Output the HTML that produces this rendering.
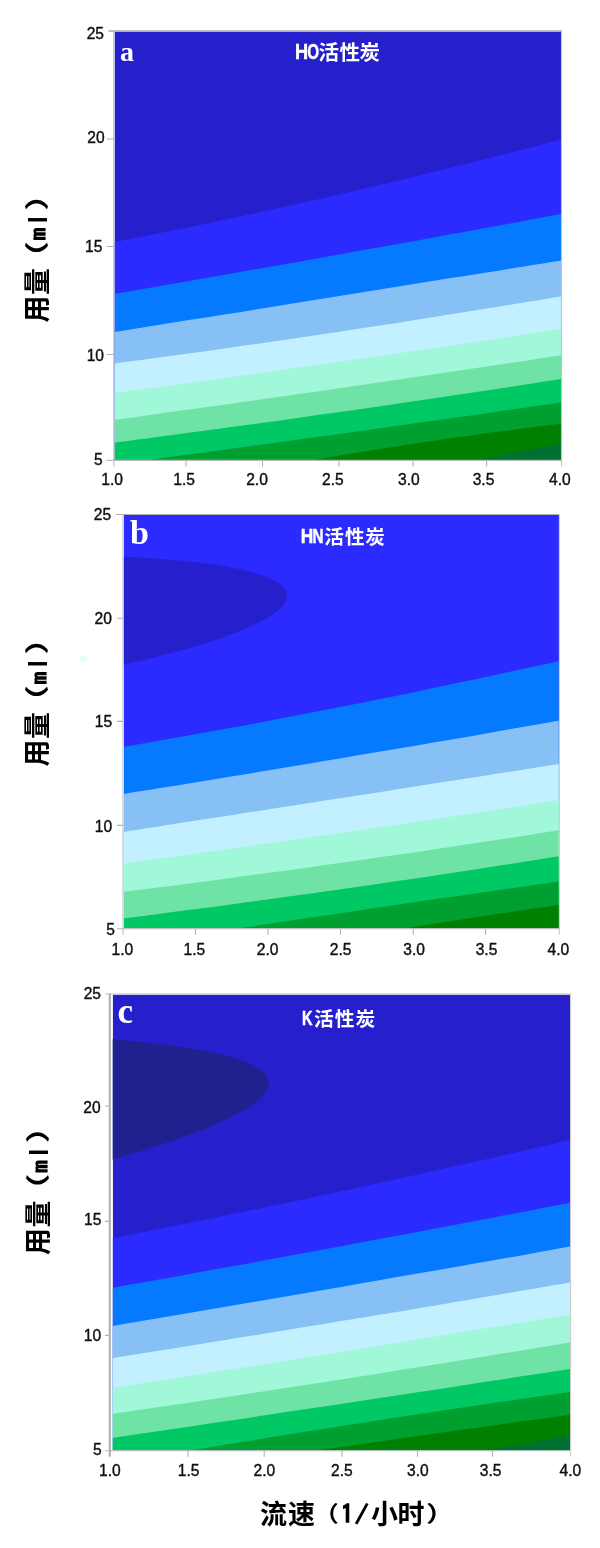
<!DOCTYPE html>
<html lang="zh-CN">
<head>
<meta charset="utf-8">
<title>活性炭等高线图</title>
<style>
html,body{margin:0;padding:0;background:#fff;}
body{width:600px;height:1548px;overflow:hidden;}
svg{display:block;}
.tk text{font-family:"Liberation Sans",sans-serif;font-size:15.6px;fill:#111;stroke:#111;stroke-width:0.4px;}
.pl text{font-family:"Liberation Serif",serif;font-weight:bold;fill:#fff;}
.tt text{font-family:"Liberation Sans","Noto Sans CJK SC",sans-serif;font-weight:bold;fill:#fff;}
.tt .lt{stroke:#fff;stroke-width:0.5px;}
.ax text.nb{font-weight:normal;stroke:#000;stroke-width:0.3px;}
.ax text.ip{font-family:"IPAGothic","Liberation Sans",sans-serif;font-weight:normal;stroke:#000;stroke-width:1.5px;}
.ax text{font-family:"Liberation Sans","Noto Sans CJK SC",sans-serif;font-weight:bold;fill:#000;}
</style>
</head>
<body>
<svg width="600" height="1548" viewBox="0 0 600 1548">
<rect width="600" height="1548" fill="#fff"/>
<clipPath id="cp0"><rect x="114.5" y="31.6" width="446.5" height="428.4"/></clipPath>
<g clip-path="url(#cp0)" shape-rendering="geometricPrecision">
<rect x="114.5" y="31.6" width="446.5" height="428.4" fill="#2620cc"/>
<path d="M114.5,242.1 C120.7,240.9 139.3,237.2 151.7,234.8 C164.1,232.3 176.5,229.8 188.9,227.2 C201.3,224.7 213.7,222.1 226.1,219.5 C238.5,216.8 250.9,214.2 263.3,211.5 C275.7,208.8 288.1,206 300.5,203.2 C312.9,200.5 325.3,197.6 337.8,194.8 C350.2,191.9 362.6,189.1 375,186.1 C387.4,183.2 399.8,180.2 412.2,177.2 C424.6,174.2 437,171.2 449.4,168.1 C461.8,165 474.2,161.9 486.6,158.8 C499,155.6 511.4,152.4 523.8,149.2 C536.2,146 554.8,141 561,139.4 L561,460 L114.5,460 Z" fill="#2b2bff"/>
<path d="M114.5,293.8 C120.7,292.8 139.3,289.6 151.7,287.4 C164.1,285.3 176.5,283.1 188.9,281 C201.3,278.8 213.7,276.7 226.1,274.5 C238.5,272.3 250.9,270.1 263.3,268 C275.7,265.8 288.1,263.6 300.5,261.4 C312.9,259.2 325.3,257 337.8,254.8 C350.2,252.6 362.6,250.3 375,248.1 C387.4,245.9 399.8,243.6 412.2,241.4 C424.6,239.1 437,236.9 449.4,234.6 C461.8,232.4 474.2,230.1 486.6,227.8 C499,225.6 511.4,223.3 523.8,221 C536.2,218.7 554.8,215.2 561,214.1 L561,460 L114.5,460 Z" fill="#067aff"/>
<path d="M114.5,332.1 C120.7,331.1 139.3,328.1 151.7,326.1 C164.1,324.1 176.5,322.1 188.9,320.1 C201.3,318.2 213.7,316.2 226.1,314.2 C238.5,312.2 250.9,310.2 263.3,308.2 C275.7,306.2 288.1,304.2 300.5,302.2 C312.9,300.2 325.3,298.2 337.8,296.3 C350.2,294.3 362.6,292.3 375,290.3 C387.4,288.3 399.8,286.3 412.2,284.3 C424.6,282.3 437,280.3 449.4,278.3 C461.8,276.3 474.2,274.3 486.6,272.4 C499,270.4 511.4,268.4 523.8,266.4 C536.2,264.4 554.8,261.4 561,260.4 L561,460 L114.5,460 Z" fill="#87c0f5"/>
<path d="M114.5,363.6 C120.7,362.8 139.3,360.3 151.7,358.6 C164.1,356.9 176.5,355.2 188.9,353.5 C201.3,351.7 213.7,350 226.1,348.2 C238.5,346.4 250.9,344.7 263.3,342.9 C275.7,341.1 288.1,339.2 300.5,337.4 C312.9,335.6 325.3,333.7 337.8,331.9 C350.2,330 362.6,328.1 375,326.2 C387.4,324.3 399.8,322.4 412.2,320.4 C424.6,318.5 437,316.5 449.4,314.6 C461.8,312.6 474.2,310.6 486.6,308.6 C499,306.6 511.4,304.6 523.8,302.5 C536.2,300.5 554.8,297.4 561,296.4 L561,460 L114.5,460 Z" fill="#c3f0ff"/>
<path d="M114.5,393.1 C120.7,392.3 139.3,389.8 151.7,388.1 C164.1,386.4 176.5,384.7 188.9,382.9 C201.3,381.2 213.7,379.5 226.1,377.8 C238.5,376 250.9,374.3 263.3,372.5 C275.7,370.8 288.1,369 300.5,367.3 C312.9,365.5 325.3,363.7 337.8,362 C350.2,360.2 362.6,358.4 375,356.6 C387.4,354.8 399.8,353 412.2,351.2 C424.6,349.4 437,347.5 449.4,345.7 C461.8,343.9 474.2,342 486.6,340.2 C499,338.4 511.4,336.5 523.8,334.6 C536.2,332.8 554.8,330 561,329 L561,460 L114.5,460 Z" fill="#a0f8d8"/>
<path d="M114.5,419.8 C120.7,419 139.3,416.4 151.7,414.7 C164.1,413 176.5,411.3 188.9,409.6 C201.3,407.9 213.7,406.1 226.1,404.4 C238.5,402.6 250.9,400.9 263.3,399.1 C275.7,397.4 288.1,395.6 300.5,393.8 C312.9,392.1 325.3,390.3 337.8,388.5 C350.2,386.7 362.6,384.9 375,383.1 C387.4,381.3 399.8,379.4 412.2,377.6 C424.6,375.8 437,373.9 449.4,372.1 C461.8,370.2 474.2,368.4 486.6,366.5 C499,364.7 511.4,362.8 523.8,360.9 C536.2,359 554.8,356.2 561,355.2 L561,460 L114.5,460 Z" fill="#6ee3a5"/>
<path d="M114.5,442.6 C120.7,441.8 139.3,439.4 151.7,437.7 C164.1,436.1 176.5,434.5 188.9,432.8 C201.3,431.1 213.7,429.5 226.1,427.8 C238.5,426.1 250.9,424.4 263.3,422.7 C275.7,421 288.1,419.3 300.5,417.5 C312.9,415.8 325.3,414 337.8,412.3 C350.2,410.5 362.6,408.7 375,406.9 C387.4,405.2 399.8,403.4 412.2,401.5 C424.6,399.7 437,397.9 449.4,396 C461.8,394.2 474.2,392.3 486.6,390.5 C499,388.6 511.4,386.7 523.8,384.8 C536.2,382.9 554.8,380 561,379.1 L561,460 L114.5,460 Z" fill="#00c864"/>
<path d="M148.1,460 C153.9,459.2 171.1,456.9 182.5,455.3 C194,453.8 205.5,452.2 216.9,450.7 C228.4,449.1 239.9,447.5 251.4,446 C262.8,444.4 274.3,442.8 285.8,441.2 C297.2,439.7 308.7,438.1 320.2,436.5 C331.6,434.9 343.1,433.3 354.6,431.7 C366,430.1 377.5,428.5 389,426.9 C400.4,425.3 411.9,423.7 423.4,422.1 C434.8,420.5 446.3,418.9 457.8,417.3 C469.3,415.6 480.7,414 492.2,412.4 C503.7,410.8 515.1,409.1 526.6,407.5 C538.1,405.9 555.3,403.4 561,402.6 L561,460 L148.1,460 Z" fill="#00a030"/>
<path d="M313.2,460 C316.6,459.4 326.9,457.6 333.8,456.5 C340.7,455.3 347.6,454.2 354.5,453 C361.4,451.9 368.2,450.8 375.1,449.7 C382,448.6 388.9,447.5 395.8,446.5 C402.7,445.4 409.6,444.3 416.4,443.3 C423.3,442.3 430.2,441.2 437.1,440.2 C444,439.2 450.9,438.2 457.7,437.3 C464.6,436.3 471.5,435.3 478.4,434.4 C485.3,433.4 492.2,432.5 499,431.6 C505.9,430.7 512.8,429.8 519.7,428.9 C526.6,428 533.5,427.1 540.3,426.3 C547.2,425.4 557.6,424.2 561,423.8 L561,460 L313.2,460 Z" fill="#008000"/>
<path d="M477,460 C478.5,459.7 472,461.1 486,458.3 C500,455.6 548.5,446 561,443.5 L561,460 L477,460 Z" fill="#007030"/>
</g>
<clipPath id="cp1"><rect x="123.8" y="515" width="435.2" height="413.3"/></clipPath>
<g clip-path="url(#cp1)" shape-rendering="geometricPrecision">
<rect x="123.8" y="515" width="435.2" height="413.3" fill="#2b2bff"/>
<path d="M120.8,556.6 L121.7,556.6 L143.7,557.8 L160.6,558.9 L174.4,560 L186.2,561.2 L196.5,562.3 L205.6,563.5 L213.7,564.6 L221,565.7 L227.6,566.9 L233.6,568 L239.1,569.1 L244.2,570.3 L248.8,571.4 L253,572.6 L256.9,573.7 L260.4,574.8 L263.7,576 L266.7,577.1 L269.4,578.2 L271.9,579.4 L274.1,580.5 L276.2,581.7 L278,582.8 L279.7,583.9 L281.1,585.1 L282.4,586.2 L283.5,587.4 L284.5,588.5 L285.3,589.6 L286,590.8 L286.5,591.9 L286.8,593 L287.1,594.2 L287.2,595.3 L287.2,596.5 L287.1,597.6 L286.8,598.7 L286.5,599.9 L286,601 L285.4,602.1 L284.7,603.3 L283.9,604.4 L283,605.6 L282,606.7 L280.9,607.8 L279.7,609 L278.4,610.1 L277.1,611.2 L275.6,612.4 L274,613.5 L272.4,614.7 L270.7,615.8 L268.8,616.9 L267,618.1 L265,619.2 L262.9,620.3 L260.8,621.5 L258.5,622.6 L256.2,623.8 L253.8,624.9 L251.4,626 L248.8,627.2 L246.2,628.3 L243.5,629.5 L240.8,630.6 L237.9,631.7 L235,632.9 L232,634 L229,635.1 L225.8,636.3 L222.6,637.4 L219.4,638.6 L216,639.7 L212.6,640.8 L209.1,642 L205.5,643.1 L201.9,644.2 L198.2,645.4 L194.4,646.5 L190.6,647.7 L186.7,648.8 L182.7,649.9 L178.6,651.1 L174.5,652.2 L170.3,653.3 L166,654.5 L161.6,655.6 L157.2,656.8 L152.7,657.9 L148.2,659 L143.5,660.2 L138.8,661.3 L134,662.4 L129.1,663.6 L124.2,664.7 L121.7,665.3 L120.8,665.3 Z" fill="#2620cc"/>
<path d="M124,746.9 C130,745.9 148.2,742.7 160.2,740.6 C172.3,738.5 184.4,736.3 196.4,734.1 C208.5,731.9 220.6,729.7 232.7,727.5 C244.8,725.3 256.8,723 268.9,720.7 C281,718.5 293.1,716.2 305.1,713.8 C317.2,711.5 329.3,709.1 341.4,706.8 C353.4,704.4 365.5,702 377.6,699.5 C389.7,697.1 401.7,694.6 413.8,692.2 C425.9,689.7 438,687.2 450,684.6 C462.1,682.1 474.2,679.6 486.2,677 C498.3,674.4 510.4,671.8 522.5,669.1 C534.6,666.5 552.7,662.5 558.7,661.2 L559,928.3 L124,928.3 Z" fill="#067aff"/>
<path d="M124,794 C130,793 148.2,790.1 160.2,788.1 C172.3,786.2 184.4,784.2 196.4,782.2 C208.5,780.2 220.6,778.3 232.7,776.3 C244.8,774.3 256.8,772.3 268.9,770.3 C281,768.3 293.1,766.3 305.1,764.3 C317.2,762.2 329.3,760.2 341.4,758.2 C353.4,756.2 365.5,754.1 377.6,752.1 C389.7,750 401.7,748 413.8,745.9 C425.9,743.8 438,741.8 450,739.7 C462.1,737.6 474.2,735.5 486.2,733.4 C498.3,731.3 510.4,729.2 522.5,727.1 C534.6,725 552.7,721.8 558.7,720.8 L559,928.3 L124,928.3 Z" fill="#87c0f5"/>
<path d="M124,831.9 C130,831 148.2,828.1 160.2,826.3 C172.3,824.4 184.4,822.5 196.4,820.6 C208.5,818.7 220.6,816.9 232.7,815 C244.8,813.1 256.8,811.2 268.9,809.3 C281,807.5 293.1,805.6 305.1,803.7 C317.2,801.8 329.3,799.9 341.4,798.1 C353.4,796.2 365.5,794.3 377.6,792.4 C389.7,790.5 401.7,788.6 413.8,786.8 C425.9,784.9 438,783 450,781.1 C462.1,779.2 474.2,777.3 486.2,775.5 C498.3,773.6 510.4,771.7 522.5,769.8 C534.6,767.9 552.7,765.1 558.7,764.1 L559,928.3 L124,928.3 Z" fill="#c3f0ff"/>
<path d="M124,863.4 C130,862.5 148.2,860.1 160.2,858.4 C172.3,856.8 184.4,855.1 196.4,853.5 C208.5,851.8 220.6,850.1 232.7,848.4 C244.8,846.7 256.8,845 268.9,843.3 C281,841.6 293.1,839.9 305.1,838.1 C317.2,836.4 329.3,834.6 341.4,832.9 C353.4,831.1 365.5,829.4 377.6,827.6 C389.7,825.8 401.7,824 413.8,822.2 C425.9,820.4 438,818.6 450,816.8 C462.1,815 474.2,813.1 486.2,811.3 C498.3,809.4 510.4,807.6 522.5,805.7 C534.6,803.9 552.7,801 558.7,800.1 L559,928.3 L124,928.3 Z" fill="#a0f8d8"/>
<path d="M124,891.8 C130,891 148.2,888.8 160.2,887.2 C172.3,885.7 184.4,884.1 196.4,882.5 C208.5,880.9 220.6,879.3 232.7,877.7 C244.8,876.1 256.8,874.5 268.9,872.8 C281,871.2 293.1,869.5 305.1,867.9 C317.2,866.2 329.3,864.5 341.4,862.8 C353.4,861.1 365.5,859.4 377.6,857.6 C389.7,855.9 401.7,854.1 413.8,852.4 C425.9,850.6 438,848.8 450,847 C462.1,845.2 474.2,843.4 486.2,841.5 C498.3,839.7 510.4,837.9 522.5,836 C534.6,834.1 552.7,831.3 558.7,830.3 L559,928.3 L124,928.3 Z" fill="#6ee3a5"/>
<path d="M124,918.3 C130,917.6 148.2,915.3 160.2,913.7 C172.3,912.2 184.4,910.6 196.4,909.1 C208.5,907.5 220.6,905.9 232.7,904.3 C244.8,902.6 256.8,901 268.9,899.3 C281,897.7 293.1,896 305.1,894.3 C317.2,892.6 329.3,890.9 341.4,889.2 C353.4,887.5 365.5,885.7 377.6,884 C389.7,882.2 401.7,880.4 413.8,878.7 C425.9,876.9 438,875 450,873.2 C462.1,871.4 474.2,869.5 486.2,867.7 C498.3,865.8 510.4,863.9 522.5,862 C534.6,860.1 552.7,857.2 558.7,856.2 L559,928.3 L124,928.3 Z" fill="#00c864"/>
<path d="M239.1,928.3 C243.5,927.6 256.9,925.6 265.7,924.3 C274.6,923 283.5,921.6 292.4,920.3 C301.2,919 310.1,917.7 319,916.3 C327.9,915 336.8,913.7 345.6,912.4 C354.5,911.1 363.4,909.8 372.3,908.5 C381.1,907.2 390,905.8 398.9,904.5 C407.8,903.2 416.7,901.9 425.5,900.6 C434.4,899.3 443.3,898 452.2,896.8 C461,895.5 469.9,894.2 478.8,892.9 C487.7,891.6 496.6,890.3 505.4,889 C514.3,887.8 523.2,886.5 532.1,885.2 C540.9,883.9 554.3,882 558.7,881.4 L559,928.3 L239.1,928.3 Z" fill="#00a030"/>
<path d="M405.1,928.3 C407.2,928 413.6,926.9 417.9,926.2 C422.1,925.5 426.4,924.9 430.7,924.2 C434.9,923.5 439.2,922.8 443.5,922.2 C447.7,921.5 452,920.8 456.3,920.2 C460.5,919.5 464.8,918.8 469.1,918.2 C473.3,917.5 477.6,916.9 481.9,916.2 C486.1,915.6 490.4,914.9 494.7,914.3 C498.9,913.7 503.2,913 507.5,912.4 C511.8,911.8 516,911.1 520.3,910.5 C524.6,909.9 528.8,909.3 533.1,908.6 C537.4,908 541.6,907.4 545.9,906.8 C550.2,906.2 556.6,905.3 558.7,905 L559,928.3 L405.1,928.3 Z" fill="#008000"/>
</g>
<clipPath id="cp2"><rect x="112.7" y="994.6" width="457.3" height="455.7"/></clipPath>
<g clip-path="url(#cp2)" shape-rendering="geometricPrecision">
<rect x="112.7" y="994.6" width="457.3" height="455.7" fill="#2620cc"/>
<path d="M109.7,1039.2 L110.5,1039.2 L125.5,1040.4 L138.8,1041.7 L150.7,1043 L161.5,1044.2 L171.3,1045.5 L180.2,1046.7 L188.3,1048 L195.8,1049.2 L202.7,1050.5 L209,1051.7 L214.9,1053 L220.3,1054.2 L225.3,1055.5 L229.9,1056.7 L234.1,1058 L238,1059.2 L241.6,1060.5 L244.9,1061.7 L248,1063 L250.8,1064.3 L253.3,1065.5 L255.6,1066.8 L257.7,1068 L259.6,1069.3 L261.3,1070.5 L262.8,1071.8 L264.1,1073 L265.2,1074.3 L266.2,1075.5 L267,1076.8 L267.6,1078 L268.1,1079.3 L268.4,1080.5 L268.6,1081.8 L268.7,1083.1 L268.7,1084.3 L268.5,1085.6 L268.2,1086.8 L267.7,1088.1 L267.2,1089.3 L266.6,1090.6 L265.8,1091.8 L264.9,1093.1 L264,1094.3 L262.9,1095.6 L261.7,1096.8 L260.4,1098.1 L259.1,1099.3 L257.6,1100.6 L256.1,1101.8 L254.4,1103.1 L252.7,1104.4 L250.9,1105.6 L249.1,1106.9 L247.1,1108.1 L245.1,1109.4 L242.9,1110.6 L240.7,1111.9 L238.5,1113.1 L236.1,1114.4 L233.7,1115.6 L231.2,1116.9 L228.7,1118.1 L226.1,1119.4 L223.4,1120.6 L220.6,1121.9 L217.8,1123.2 L214.9,1124.4 L212,1125.7 L209,1126.9 L205.9,1128.2 L202.8,1129.4 L199.6,1130.7 L196.4,1131.9 L193.1,1133.2 L189.7,1134.4 L186.3,1135.7 L182.8,1136.9 L179.3,1138.2 L175.7,1139.4 L172.1,1140.7 L168.4,1141.9 L164.7,1143.2 L160.9,1144.5 L157.1,1145.7 L153.2,1147 L149.3,1148.2 L145.3,1149.5 L141.3,1150.7 L137.2,1152 L133,1153.2 L128.9,1154.5 L124.7,1155.7 L120.4,1157 L116.1,1158.2 L111.7,1159.5 L110.6,1159.8 L109.7,1159.8 Z" fill="#20208e"/>
<path d="M112.5,1238.2 C118.9,1237 137.9,1233.3 150.6,1230.7 C163.3,1228.2 176,1225.6 188.8,1223.1 C201.5,1220.5 214.2,1217.9 226.9,1215.3 C239.6,1212.7 252.3,1210.1 265,1207.4 C277.7,1204.8 290.4,1202.1 303.1,1199.4 C315.8,1196.7 328.5,1194 341.2,1191.3 C354,1188.5 366.7,1185.8 379.4,1183 C392.1,1180.2 404.8,1177.4 417.5,1174.6 C430.2,1171.8 442.9,1169 455.6,1166.1 C468.3,1163.3 481,1160.4 493.8,1157.5 C506.5,1154.6 519.2,1151.7 531.9,1148.8 C544.6,1145.8 563.6,1141.4 570,1139.9 L570,1450.3 L112.5,1450.3 Z" fill="#2b2bff"/>
<path d="M112.5,1287.8 C118.9,1286.7 137.9,1283.3 150.6,1281 C163.3,1278.8 176,1276.5 188.8,1274.2 C201.5,1271.9 214.2,1269.6 226.9,1267.3 C239.6,1265 252.3,1262.7 265,1260.3 C277.7,1258 290.4,1255.7 303.1,1253.3 C315.8,1251 328.5,1248.6 341.2,1246.3 C354,1243.9 366.7,1241.5 379.4,1239.1 C392.1,1236.8 404.8,1234.4 417.5,1232 C430.2,1229.6 442.9,1227.2 455.6,1224.8 C468.3,1222.3 481,1219.9 493.8,1217.5 C506.5,1215 519.2,1212.6 531.9,1210.2 C544.6,1207.7 563.6,1204 570,1202.8 L570,1450.3 L112.5,1450.3 Z" fill="#067aff"/>
<path d="M112.5,1325.9 C118.9,1324.8 137.9,1321.6 150.6,1319.5 C163.3,1317.4 176,1315.2 188.8,1313 C201.5,1310.9 214.2,1308.7 226.9,1306.6 C239.6,1304.4 252.3,1302.2 265,1300 C277.7,1297.9 290.4,1295.7 303.1,1293.5 C315.8,1291.3 328.5,1289.1 341.2,1286.9 C354,1284.7 366.7,1282.5 379.4,1280.3 C392.1,1278.1 404.8,1275.8 417.5,1273.6 C430.2,1271.4 442.9,1269.2 455.6,1266.9 C468.3,1264.7 481,1262.4 493.8,1260.2 C506.5,1257.9 519.2,1255.7 531.9,1253.4 C544.6,1251.2 563.6,1247.8 570,1246.6 L570,1450.3 L112.5,1450.3 Z" fill="#87c0f5"/>
<path d="M112.5,1358.2 C118.9,1357.2 137.9,1354.2 150.6,1352.1 C163.3,1350.1 176,1348 188.8,1346 C201.5,1343.9 214.2,1341.9 226.9,1339.8 C239.6,1337.7 252.3,1335.7 265,1333.6 C277.7,1331.5 290.4,1329.4 303.1,1327.3 C315.8,1325.2 328.5,1323.1 341.2,1321 C354,1318.9 366.7,1316.8 379.4,1314.7 C392.1,1312.6 404.8,1310.5 417.5,1308.4 C430.2,1306.2 442.9,1304.1 455.6,1302 C468.3,1299.8 481,1297.7 493.8,1295.5 C506.5,1293.4 519.2,1291.2 531.9,1289.1 C544.6,1286.9 563.6,1283.6 570,1282.6 L570,1450.3 L112.5,1450.3 Z" fill="#c3f0ff"/>
<path d="M112.5,1387.8 C118.9,1386.8 137.9,1383.9 150.6,1381.9 C163.3,1379.9 176,1377.9 188.8,1376 C201.5,1374 214.2,1372 226.9,1370 C239.6,1368 252.3,1366 265,1364 C277.7,1362 290.4,1360 303.1,1357.9 C315.8,1355.9 328.5,1353.9 341.2,1351.9 C354,1349.8 366.7,1347.8 379.4,1345.7 C392.1,1343.7 404.8,1341.6 417.5,1339.5 C430.2,1337.5 442.9,1335.4 455.6,1333.3 C468.3,1331.2 481,1329.1 493.8,1327.1 C506.5,1325 519.2,1322.9 531.9,1320.7 C544.6,1318.6 563.6,1315.5 570,1314.4 L570,1450.3 L112.5,1450.3 Z" fill="#a0f8d8"/>
<path d="M112.5,1413.9 C118.9,1413 137.9,1410.2 150.6,1408.3 C163.3,1406.5 176,1404.6 188.8,1402.7 C201.5,1400.8 214.2,1398.9 226.9,1397 C239.6,1395.1 252.3,1393.1 265,1391.2 C277.7,1389.2 290.4,1387.3 303.1,1385.3 C315.8,1383.4 328.5,1381.4 341.2,1379.4 C354,1377.4 366.7,1375.4 379.4,1373.4 C392.1,1371.4 404.8,1369.4 417.5,1367.3 C430.2,1365.3 442.9,1363.3 455.6,1361.2 C468.3,1359.1 481,1357.1 493.8,1355 C506.5,1352.9 519.2,1350.8 531.9,1348.7 C544.6,1346.6 563.6,1343.4 570,1342.4 L570,1450.3 L112.5,1450.3 Z" fill="#6ee3a5"/>
<path d="M112.5,1437.9 C118.9,1437 137.9,1434.2 150.6,1432.3 C163.3,1430.4 176,1428.5 188.8,1426.7 C201.5,1424.8 214.2,1422.9 226.9,1421 C239.6,1419.1 252.3,1417.2 265,1415.3 C277.7,1413.4 290.4,1411.5 303.1,1409.6 C315.8,1407.7 328.5,1405.8 341.2,1403.9 C354,1402 366.7,1400 379.4,1398.1 C392.1,1396.2 404.8,1394.3 417.5,1392.3 C430.2,1390.4 442.9,1388.4 455.6,1386.5 C468.3,1384.6 481,1382.6 493.8,1380.6 C506.5,1378.7 519.2,1376.7 531.9,1374.8 C544.6,1372.8 563.6,1369.8 570,1368.9 L570,1450.3 L112.5,1450.3 Z" fill="#00c864"/>
<path d="M191.6,1450.3 C196.9,1449.4 212.7,1446.8 223.2,1445 C233.7,1443.3 244.2,1441.6 254.7,1439.9 C265.2,1438.1 275.7,1436.4 286.2,1434.8 C296.7,1433.1 307.3,1431.4 317.8,1429.7 C328.3,1428.1 338.8,1426.4 349.3,1424.8 C359.8,1423.1 370.3,1421.5 380.8,1419.9 C391.3,1418.3 401.8,1416.7 412.4,1415.1 C422.9,1413.5 433.4,1411.9 443.9,1410.3 C454.4,1408.8 464.9,1407.2 475.4,1405.7 C485.9,1404.1 496.4,1402.6 506.9,1401.1 C517.5,1399.6 528,1398 538.5,1396.6 C549,1395.1 564.7,1392.9 570,1392.1 L570,1450.3 L191.6,1450.3 Z" fill="#00a030"/>
<path d="M317.8,1450.3 C321.3,1449.8 331.8,1448.3 338.8,1447.3 C345.8,1446.3 352.8,1445.3 359.8,1444.2 C366.8,1443.2 373.8,1442.2 380.8,1441.2 C387.8,1440.2 394.8,1439.2 401.8,1438.2 C408.8,1437.2 415.9,1436.3 422.9,1435.3 C429.9,1434.3 436.9,1433.3 443.9,1432.3 C450.9,1431.3 457.9,1430.3 464.9,1429.3 C471.9,1428.4 478.9,1427.4 485.9,1426.4 C492.9,1425.4 499.9,1424.4 506.9,1423.5 C513.9,1422.5 521,1421.5 528,1420.6 C535,1419.6 542,1418.6 549,1417.7 C556,1416.7 566.5,1415.3 570,1414.8 L570,1450.3 L317.8,1450.3 Z" fill="#008000"/>
<path d="M486,1450.3 C487.5,1450 481,1451.1 495,1448.7 C509,1446.3 557.5,1437.9 570,1435.7 L570,1450.3 L486,1450.3 Z" fill="#007030"/>
</g>
<g fill="none">
<path d="M108.5,31 H562" stroke="#a6a6a6" stroke-width="1.3"/>
<path d="M106.5,460.4 H562" stroke="#b8b8b8" stroke-width="1.1"/>
<path d="M113.8,30.5 V466.4" stroke="#bcbcd0" stroke-width="1.1"/>
<path d="M561.5,30.5 V466.4" stroke="#c2c2c2" stroke-width="1.1"/>
<path d="M106.5,139 H113.8 M106.5,246.5 H113.8 M106.5,354.5 H113.8 M186,460.4 V466.4 M262.5,460.4 V466.4 M339,460.4 V466.4 M413,460.4 V466.4 M486.7,460.4 V466.4" stroke="#b2b2b2" stroke-width="1.1"/>
</g>
<g class="tk">
<text x="104" y="38.6" text-anchor="end">25</text>
<text x="104.6" y="143" text-anchor="end">20</text>
<text x="102.4" y="251.6" text-anchor="end">15</text>
<text x="104" y="360.5" text-anchor="end">10</text>
<text x="102.8" y="464.6" text-anchor="end">5</text>
<text x="112.1" y="485" text-anchor="middle">1.0</text>
<text x="184.1" y="485" text-anchor="middle">1.5</text>
<text x="257" y="485" text-anchor="middle">2.0</text>
<text x="332.8" y="485" text-anchor="middle">2.5</text>
<text x="408.8" y="485" text-anchor="middle">3.0</text>
<text x="483.5" y="485" text-anchor="middle">3.5</text>
<text x="559.8" y="485" text-anchor="middle">4.0</text>
</g>
<g fill="none">
<path d="M116,514.5 H559.9" stroke="#b0b0b0" stroke-width="1.2"/>
<path d="M117,928.8 H559.9" stroke="#b8b8b8" stroke-width="1.1"/>
<path d="M123,514 V934.8" stroke="#bcbcd0" stroke-width="1.1"/>
<path d="M559.4,514 V934.8" stroke="#cccccc" stroke-width="1.1"/>
<path d="M117,618.3 H123 M117,721.4 H123 M117,825.4 H123 M195.5,928.8 V934.8 M268,928.8 V934.8 M340.5,928.8 V934.8 M413.3,928.8 V934.8 M485.5,928.8 V934.8" stroke="#b2b2b2" stroke-width="1.1"/>
</g>
<g class="tk">
<text x="111.2" y="519.6" text-anchor="end">25</text>
<text x="111.9" y="623.8" text-anchor="end">20</text>
<text x="112.2" y="727.3" text-anchor="end">15</text>
<text x="112.2" y="831.8" text-anchor="end">10</text>
<text x="115" y="934.6" text-anchor="end">5</text>
<text x="122.3" y="955" text-anchor="middle">1.0</text>
<text x="194.3" y="955" text-anchor="middle">1.5</text>
<text x="267.6" y="955" text-anchor="middle">2.0</text>
<text x="340.6" y="955" text-anchor="middle">2.5</text>
<text x="414.1" y="955" text-anchor="middle">3.0</text>
<text x="486.5" y="955" text-anchor="middle">3.5</text>
<text x="558.3" y="955" text-anchor="middle">4.0</text>
</g>
<g fill="none">
<path d="M105.5,994 H571.1" stroke="#c0c0c8" stroke-width="1.1"/>
<path d="M105,1450.8 H571.1" stroke="#b8b8b8" stroke-width="1.1"/>
<path d="M109.8,993.5 V1456.8" stroke="#b2b2b2" stroke-width="2.2"/>
<path d="M570.6,993.5 V1456.8" stroke="#cccccc" stroke-width="1.1"/>
<path d="M105,1106 H109.8 M105,1221.4 H109.8 M105,1335.4 H109.8 M187.9,1450.8 V1456.8 M264.2,1450.8 V1456.8 M342,1450.8 V1456.8 M417.5,1450.8 V1456.8 M492.5,1450.8 V1456.8" stroke="#b2b2b2" stroke-width="1.1"/>
</g>
<g class="tk">
<text x="101" y="999.3" text-anchor="end">25</text>
<text x="100.7" y="1113" text-anchor="end">20</text>
<text x="101.4" y="1225.3" text-anchor="end">15</text>
<text x="101.2" y="1341.3" text-anchor="end">10</text>
<text x="101.6" y="1455.3" text-anchor="end">5</text>
<text x="109.8" y="1475.6" text-anchor="middle">1.0</text>
<text x="188.6" y="1475.6" text-anchor="middle">1.5</text>
<text x="264.3" y="1475.6" text-anchor="middle">2.0</text>
<text x="341.8" y="1475.6" text-anchor="middle">2.5</text>
<text x="417.8" y="1475.6" text-anchor="middle">3.0</text>
<text x="490.6" y="1475.6" text-anchor="middle">3.5</text>
<text x="570.4" y="1475.6" text-anchor="middle">4.0</text>
</g>
<circle cx="83.5" cy="658.5" r="3.6" fill="#e6fff5"/>
<g class="pl">
<text x="120" y="60.8" font-size="28">a</text>
<text x="130" y="543.5" font-size="34">b</text>
<text x="117.5" y="1023" font-size="35">c</text>
</g>
<g class="tt"><text class="lt" x="295.1" y="58.6" font-size="21.5" textLength="13.1" lengthAdjust="spacingAndGlyphs">H</text><text class="lt" x="307.3" y="58.6" font-size="21.5" textLength="11.9" lengthAdjust="spacingAndGlyphs">O</text><text y="59.8" font-size="20.5" x="318.5 339.5 359.5">活性炭</text></g>
<g class="tt"><text class="lt" x="300.8" y="543.3" font-size="19.8" textLength="12.5" lengthAdjust="spacingAndGlyphs">H</text><text class="lt" x="312.6" y="543.3" font-size="19.8" textLength="11" lengthAdjust="spacingAndGlyphs">N</text><text y="544.2" font-size="19.6" x="324.2 345 365.3">活性炭</text></g>
<g class="tt"><text class="lt" x="302" y="1025" font-size="19.6" textLength="10.5" lengthAdjust="spacingAndGlyphs">K</text><text y="1026.4" font-size="19.8" x="313.9 334.8 355.5">活性炭</text></g>
<g class="ax" transform="translate(46.5,322.5) rotate(-90)"><text font-size="27" x="0 27.5" y="0">用量</text><text class="lt" x="48.9" y="-2" font-size="24" textLength="32.4" lengthAdjust="spacingAndGlyphs">（</text><text class="ip" x="82" y="-0.4" font-size="21.5" textLength="13" lengthAdjust="spacingAndGlyphs" style="stroke-width:1.2px">m</text><text class="lt" x="99.3" y="0" font-size="25" textLength="7" lengthAdjust="spacingAndGlyphs">l</text><text class="lt" x="111.7" y="-2" font-size="24" textLength="32.4" lengthAdjust="spacingAndGlyphs">）</text></g>
<g class="ax" transform="translate(47.3,766.5) rotate(-90)"><text font-size="27" x="0 27.5" y="0">用量</text><text class="lt" x="48.9" y="-2" font-size="24" textLength="32.4" lengthAdjust="spacingAndGlyphs">（</text><text class="ip" x="82" y="-0.4" font-size="21.5" textLength="13" lengthAdjust="spacingAndGlyphs" style="stroke-width:1.2px">m</text><text class="lt" x="99.3" y="0" font-size="25" textLength="7" lengthAdjust="spacingAndGlyphs">l</text><text class="lt" x="111.7" y="-2" font-size="24" textLength="32.4" lengthAdjust="spacingAndGlyphs">）</text></g>
<g class="ax" transform="translate(48.2,1255) rotate(-90)"><text font-size="27" x="0 27.5" y="0">用量</text><text class="lt" x="48.9" y="-2" font-size="24" textLength="32.4" lengthAdjust="spacingAndGlyphs">（</text><text class="ip" x="82" y="-0.4" font-size="21.5" textLength="13" lengthAdjust="spacingAndGlyphs" style="stroke-width:1.2px">m</text><text class="lt" x="99.3" y="0" font-size="25" textLength="7" lengthAdjust="spacingAndGlyphs">l</text><text class="lt" x="111.7" y="-2" font-size="24" textLength="32.4" lengthAdjust="spacingAndGlyphs">）</text></g>
<g class="ax"><text font-size="27" y="1523.5" x="260 288">流速</text><text class="lt" x="313.2" y="1521.2" font-size="22" textLength="25.7" lengthAdjust="spacingAndGlyphs">（</text><text class="ip" x="340.8" y="1522.8" font-size="25.5">1</text><text class="ip" x="355.3" y="1521.6" font-size="22.5" textLength="13" lengthAdjust="spacingAndGlyphs">/</text><text font-size="27" y="1523.5" x="371 397.5">小时</text><text class="lt" x="425.9" y="1521.2" font-size="22" textLength="28.6" lengthAdjust="spacingAndGlyphs">）</text></g>
</svg>
</body>
</html>
